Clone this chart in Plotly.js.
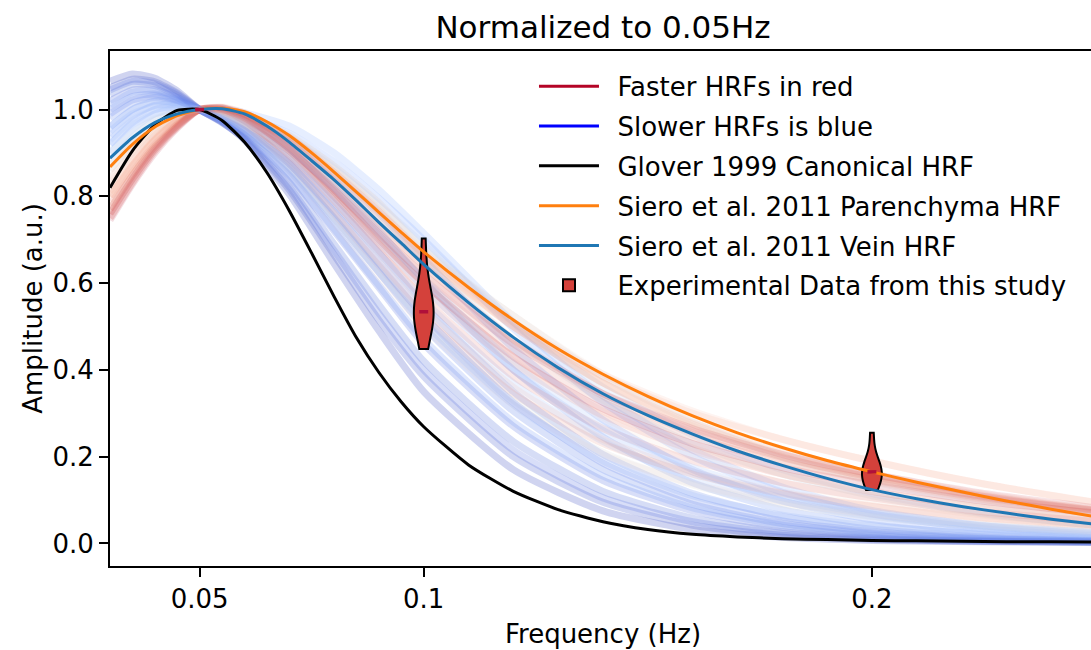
<!DOCTYPE html>
<html>
<head>
<meta charset="utf-8">
<script src="https://cdn.plot.ly/plotly-3.0.1.min.js"></script>
<style>
  html, body { margin: 0; padding: 0; overflow: hidden; background: #fff; }
  #chart { width: 1096px; height: 650px; }
</style>
</head>
<body>
<div id="chart"></div>
<script>
// ---------------- data ----------------
// frequency grid (Hz) for the simulated HRF family
const freqGrid = [0.03, 0.035, 0.04, 0.045, 0.05, 0.055, 0.06, 0.07, 0.08, 0.09, 0.1, 0.12, 0.14, 0.16, 0.18, 0.2, 0.225, 0.25];
// finer grid for the reference HRFs
const freqFine = [0.03, 0.035, 0.04, 0.045, 0.05, 0.055, 0.06, 0.065, 0.07, 0.075, 0.08, 0.085, 0.09, 0.095, 0.1,
                  0.11, 0.12, 0.13, 0.14, 0.15, 0.16, 0.17, 0.18, 0.19, 0.2, 0.21, 0.22, 0.23, 0.24, 0.25];

const gloverHRF = [0.82, 0.905, 0.965, 0.998, 1.0, 0.975, 0.925, 0.855, 0.767, 0.669, 0.569, 0.474, 0.394, 0.326, 0.269,
                   0.181, 0.12, 0.078, 0.05, 0.032, 0.021, 0.015, 0.011, 0.009, 0.007, 0.006, 0.005, 0.004, 0.004, 0.003];
const parenchymaHRF = [0.868, 0.92, 0.96, 0.986, 1.0, 1.003, 0.995, 0.972, 0.94, 0.9, 0.856, 0.81, 0.763, 0.717, 0.672,
                       0.59, 0.515, 0.448, 0.39, 0.339, 0.294, 0.255, 0.221, 0.191, 0.165, 0.141, 0.119, 0.098, 0.079, 0.061];
const veinHRF = [0.888, 0.935, 0.97, 0.99, 1.0, 1.002, 0.99, 0.962, 0.925, 0.882, 0.838, 0.79, 0.74, 0.692, 0.643,
                 0.555, 0.475, 0.405, 0.345, 0.295, 0.252, 0.213, 0.18, 0.15, 0.124, 0.103, 0.085, 0.07, 0.056, 0.044];

// simulated HRF family; speed: 0 = slowest (blue) ... 1 = fastest (red)
const hrf01 = [1.065, 1.082, 1.072, 1.043, 1.0, 0.972, 0.93, 0.805, 0.645, 0.49, 0.35, 0.17, 0.075, 0.032, 0.014, 0.007, 0.004, 0.002];
const hrf02 = [1.05, 1.07, 1.064, 1.038, 1.0, 0.97, 0.932, 0.815, 0.665, 0.515, 0.385, 0.2, 0.095, 0.042, 0.019, 0.009, 0.005, 0.003];
const hrf03 = [1.035, 1.058, 1.055, 1.033, 1.0, 0.972, 0.937, 0.832, 0.69, 0.55, 0.42, 0.235, 0.12, 0.058, 0.027, 0.013, 0.006, 0.003];
const hrf04 = [1.02, 1.045, 1.046, 1.028, 1.0, 0.974, 0.942, 0.847, 0.72, 0.59, 0.46, 0.27, 0.145, 0.075, 0.037, 0.018, 0.008, 0.004];
const hrf05 = [1.0, 1.03, 1.036, 1.023, 1.0, 0.977, 0.949, 0.866, 0.75, 0.625, 0.5, 0.305, 0.17, 0.09, 0.046, 0.024, 0.011, 0.005];
const hrf06 = [0.98, 1.015, 1.028, 1.02, 1.0, 0.98, 0.956, 0.886, 0.785, 0.67, 0.55, 0.35, 0.205, 0.115, 0.062, 0.033, 0.015, 0.007];
const hrf07 = [0.96, 1.0, 1.02, 1.016, 1.0, 0.985, 0.965, 0.905, 0.82, 0.72, 0.605, 0.4, 0.245, 0.14, 0.078, 0.043, 0.02, 0.009];
const hrf08 = [0.94, 0.985, 1.01, 1.012, 1.0, 0.99, 0.975, 0.925, 0.85, 0.76, 0.655, 0.45, 0.285, 0.17, 0.098, 0.055, 0.027, 0.013];
const hrf09 = [0.92, 0.97, 1.0, 1.008, 1.0, 0.995, 0.985, 0.945, 0.88, 0.795, 0.7, 0.495, 0.325, 0.2, 0.118, 0.068, 0.034, 0.017];
const hrf10 = [0.9, 0.955, 0.99, 1.004, 1.0, 1.002, 0.993, 0.962, 0.9, 0.815, 0.715, 0.51, 0.34, 0.215, 0.13, 0.076, 0.04, 0.02];
const hrf11 = [0.95, 0.99, 1.008, 1.01, 1.0, 0.985, 0.965, 0.895, 0.8, 0.695, 0.59, 0.4, 0.26, 0.165, 0.105, 0.068, 0.04, 0.024];
const hrf12 = [0.92, 0.965, 0.99, 1.0, 1.0, 0.985, 0.96, 0.88, 0.78, 0.67, 0.56, 0.37, 0.235, 0.15, 0.097, 0.063, 0.037, 0.022];
const hrf13 = [0.88, 0.935, 0.975, 0.995, 1.0, 0.995, 0.982, 0.935, 0.865, 0.78, 0.69, 0.51, 0.36, 0.25, 0.17, 0.115, 0.07, 0.042];
const hrf14 = [0.9, 0.945, 0.978, 0.995, 1.0, 0.99, 0.97, 0.91, 0.83, 0.74, 0.65, 0.47, 0.33, 0.23, 0.16, 0.11, 0.068, 0.042];
const hrf15 = [0.86, 0.92, 0.965, 0.99, 1.0, 0.997, 0.985, 0.94, 0.87, 0.785, 0.68, 0.525, 0.385, 0.28, 0.2, 0.143, 0.092, 0.058];
const hrf16 = [0.86, 0.92, 0.963, 0.99, 1.0, 0.99, 0.97, 0.9, 0.805, 0.7, 0.6, 0.42, 0.29, 0.2, 0.14, 0.1, 0.065, 0.042];
const hrf17 = [0.84, 0.905, 0.955, 0.985, 1.0, 1.0, 0.99, 0.94, 0.87, 0.785, 0.675, 0.525, 0.39, 0.29, 0.215, 0.16, 0.108, 0.072];
const hrf18 = [0.83, 0.895, 0.948, 0.982, 1.0, 0.998, 0.985, 0.935, 0.86, 0.77, 0.665, 0.505, 0.37, 0.27, 0.2, 0.15, 0.102, 0.068];
const hrf19 = [0.82, 0.89, 0.945, 0.982, 1.0, 0.995, 0.975, 0.905, 0.81, 0.705, 0.6, 0.43, 0.305, 0.22, 0.16, 0.12, 0.082, 0.056];
const hrf20 = [0.81, 0.88, 0.94, 0.978, 1.0, 1.0, 0.985, 0.93, 0.85, 0.76, 0.66, 0.5, 0.37, 0.278, 0.21, 0.16, 0.113, 0.078];
const hrf21 = [0.8, 0.872, 0.933, 0.975, 1.0, 1.003, 0.99, 0.935, 0.855, 0.765, 0.665, 0.5, 0.37, 0.275, 0.205, 0.155, 0.11, 0.077];
const hrf22 = [0.79, 0.865, 0.928, 0.972, 1.0, 1.005, 0.992, 0.937, 0.855, 0.765, 0.67, 0.51, 0.39, 0.305, 0.24, 0.19, 0.137, 0.094];
const hrf23 = [0.78, 0.855, 0.92, 0.968, 1.0, 1.0, 0.98, 0.905, 0.8, 0.69, 0.585, 0.415, 0.295, 0.215, 0.16, 0.12, 0.083, 0.057];
const hrf24 = [0.77, 0.848, 0.915, 0.965, 1.0, 1.002, 0.985, 0.915, 0.815, 0.71, 0.61, 0.445, 0.325, 0.245, 0.188, 0.147, 0.105, 0.075];
const hrf25 = [0.76, 0.84, 0.91, 0.962, 1.0, 1.004, 0.988, 0.925, 0.835, 0.735, 0.64, 0.47, 0.345, 0.26, 0.198, 0.152, 0.108, 0.076];
const hrf26 = [0.75, 0.832, 0.905, 0.96, 1.0, 1.006, 0.992, 0.932, 0.845, 0.75, 0.655, 0.5, 0.385, 0.3, 0.24, 0.19, 0.137, 0.095];
const hrf27 = [0.745, 0.828, 0.9, 0.957, 1.0, 1.004, 0.985, 0.91, 0.81, 0.7, 0.6, 0.43, 0.31, 0.23, 0.175, 0.135, 0.097, 0.07];
const hrf28 = [0.8, 0.87, 0.93, 0.975, 1.0, 0.99, 0.965, 0.88, 0.77, 0.65, 0.54, 0.36, 0.24, 0.165, 0.118, 0.087, 0.06, 0.042];
const hrf29 = [0.77, 0.848, 0.915, 0.965, 1.0, 0.992, 0.965, 0.875, 0.76, 0.64, 0.525, 0.345, 0.23, 0.16, 0.115, 0.085, 0.058, 0.04];
const hrf30 = [0.84, 0.9, 0.95, 0.983, 1.0, 0.985, 0.955, 0.86, 0.74, 0.615, 0.5, 0.32, 0.205, 0.138, 0.095, 0.068, 0.045, 0.03];
const hrf31 = [0.76, 0.84, 0.91, 0.962, 1.0, 0.996, 0.975, 0.895, 0.79, 0.675, 0.565, 0.385, 0.265, 0.19, 0.14, 0.105, 0.073, 0.05];
const hrf32 = [0.87, 0.925, 0.965, 0.99, 1.0, 0.985, 0.955, 0.865, 0.75, 0.63, 0.515, 0.33, 0.21, 0.135, 0.09, 0.062, 0.04, 0.026];
const hrf33 = [0.96, 1.0, 1.018, 1.015, 1.0, 0.98, 0.952, 0.86, 0.745, 0.625, 0.51, 0.32, 0.19, 0.11, 0.065, 0.04, 0.022, 0.013];
const hrf34 = [1.01, 1.04, 1.043, 1.027, 1.0, 0.974, 0.942, 0.85, 0.725, 0.595, 0.47, 0.28, 0.155, 0.082, 0.042, 0.022, 0.01, 0.005];
const hrf35 = [1.045, 1.065, 1.06, 1.036, 1.0, 0.97, 0.934, 0.822, 0.675, 0.53, 0.4, 0.215, 0.105, 0.05, 0.023, 0.011, 0.005, 0.003];
const hrf36 = [0.93, 0.975, 1.0, 1.006, 1.0, 0.99, 0.972, 0.91, 0.82, 0.715, 0.61, 0.415, 0.27, 0.175, 0.112, 0.072, 0.042, 0.025];
const hrf37 = [0.99, 1.022, 1.032, 1.021, 1.0, 0.978, 0.952, 0.875, 0.765, 0.645, 0.525, 0.325, 0.185, 0.1, 0.052, 0.027, 0.012, 0.006];
const hrf38 = [0.8, 0.87, 0.93, 0.975, 1.0, 0.998, 0.98, 0.915, 0.83, 0.73, 0.63, 0.465, 0.34, 0.255, 0.19, 0.145, 0.1, 0.07];
const hrf39 = [0.75, 0.832, 0.905, 0.96, 1.0, 1.0, 0.982, 0.91, 0.815, 0.715, 0.62, 0.46, 0.345, 0.265, 0.205, 0.16, 0.115, 0.082];
const ensemble = [hrf01, hrf02, hrf03, hrf04, hrf05, hrf06, hrf07, hrf08, hrf09, hrf10, hrf11, hrf12, hrf13, hrf14,
                  hrf15, hrf16, hrf17, hrf18, hrf19, hrf20, hrf21, hrf22, hrf23, hrf24, hrf25, hrf26, hrf27,
                  hrf28, hrf29, hrf30, hrf31, hrf32, hrf33, hrf34, hrf35, hrf36, hrf37, hrf38, hrf39];
const ensembleSpeed = [0.0, 0.04, 0.08, 0.1, 0.13, 0.16, 0.19, 0.22, 0.25, 0.28, 0.3, 0.35, 0.4, 0.45, 0.5, 0.58,
                       0.6, 0.64, 0.68, 0.72, 0.76, 0.7, 0.84, 0.88, 0.92, 0.72, 1.0,
                       0.7, 0.85, 0.6, 0.9, 0.5, 0.3, 0.2, 0.1, 0.35, 0.15, 0.75, 0.95];

// experimental data (amplitude per subject) at the probed frequencies
const expFreqs = [0.05, 0.1, 0.2];
const exp005 = [1.0, 1.0, 1.0, 1.0, 1.0, 1.0, 1.0, 1.0, 1.0, 1.0];
const exp010 = [0.448, 0.49, 0.515, 0.528, 0.532, 0.536, 0.55, 0.575, 0.62, 0.703];
const exp020 = [0.123, 0.135, 0.145, 0.155, 0.162, 0.168, 0.175, 0.185, 0.205, 0.255];

const xTickVals = [0.05, 0.1, 0.2];
const xTickText = ['0.05', '0.1', '0.2'];
const yTickVals = [0.0, 0.2, 0.4, 0.6, 0.8, 1.0];

// ---------------- styling helpers ----------------
const coolwarm = [[59,76,192],[98,130,234],[141,176,254],[184,208,249],[221,221,221],
                  [245,196,173],[244,154,123],[222,96,77],[180,4,38]];
function cmap(t, a) {
  const p = Math.max(0, Math.min(1, t)) * (coolwarm.length - 1);
  const i = Math.min(Math.floor(p), coolwarm.length - 2);
  const f = p - i;
  const c = coolwarm[i].map((v, k) => Math.round(v + (coolwarm[i + 1][k] - v) * f));
  return `rgba(${c[0]},${c[1]},${c[2]},${a})`;
}
function median(arr) {
  const s = arr.slice().sort((a, b) => a - b);
  const n = s.length;
  return n % 2 ? s[(n - 1) / 2] : (s[n / 2 - 1] + s[n / 2]) / 2;
}

const FONT = 'DejaVu Sans, Verdana, sans-serif';
const PAD = '\u00A0\u2009';
const traces = [];

ensemble.forEach((vals, i) => {
  const t = ensembleSpeed[i];
  traces.push({
    type: 'scatter', mode: 'lines', x: freqGrid, y: vals,
    line: { color: cmap(t, t > 0.55 ? 0.13 : 0.24), width: 7, shape: 'spline', smoothing: 0.6 },
    showlegend: false, hoverinfo: 'skip'
  });
});

// everything below lives on an overlaying (identical) axis pair so it is drawn above the family
const OV = { xaxis: 'x2', yaxis: 'y2' };

const violinData = [exp010, exp020];
const violinPos = [0.1, 0.2];
const violinBw = [0.05, 0.026];
violinData.forEach((vals, i) => {
  traces.push(Object.assign({
    type: 'violin', x: vals.map(() => violinPos[i]), y: vals,
    name: PAD + 'Experimental Data from this study', showlegend: i === 0, legendrank: 6, legendgroup: 'g6',
    width: 0.0044, spanmode: 'hard', scalemode: 'width', points: false, bandwidth: violinBw[i],
    box: { visible: false }, meanline: { visible: false },
    fillcolor: '#d4413b', line: { color: '#000000', width: 2 }, opacity: 1, hoverinfo: 'skip'
  }, OV));
});

traces.push(Object.assign({ type: 'scatter', mode: 'lines', x: [null], y: [null], name: PAD + 'Faster HRFs in red',
  line: { color: '#b40426', width: 3 }, legendrank: 1, legendgroup: 'g1' }, OV));
traces.push(Object.assign({ type: 'scatter', mode: 'lines', x: [null], y: [null], name: PAD + 'Slower HRFs is blue',
  line: { color: '#0000ff', width: 3 }, legendrank: 2, legendgroup: 'g2' }, OV));
traces.push(Object.assign({ type: 'scatter', mode: 'lines', x: freqFine, y: gloverHRF, name: PAD + 'Glover 1999 Canonical HRF',
  line: { color: '#000000', width: 3, shape: 'spline', smoothing: 0.6 }, legendrank: 3, legendgroup: 'g3', hoverinfo: 'skip' }, OV));
traces.push(Object.assign({ type: 'scatter', mode: 'lines', x: freqFine, y: parenchymaHRF, name: PAD + 'Siero et al. 2011 Parenchyma HRF',
  line: { color: '#ff7f0e', width: 3, shape: 'spline', smoothing: 0.6 }, legendrank: 4, legendgroup: 'g4', hoverinfo: 'skip' }, OV));
traces.push(Object.assign({ type: 'scatter', mode: 'lines', x: freqFine, y: veinHRF, name: PAD + 'Siero et al. 2011 Vein HRF',
  line: { color: '#1f77b4', width: 3, shape: 'spline', smoothing: 0.6 }, legendrank: 5, legendgroup: 'g5', hoverinfo: 'skip' }, OV));

[exp005, exp010, exp020].forEach((vals, i) => {
  const m = median(vals);
  traces.push(Object.assign({
    type: 'scatter', mode: 'lines', x: [expFreqs[i] - 0.001, expFreqs[i] + 0.001], y: [m, m],
    line: { color: '#b0103a', width: 3.5 }, showlegend: false, hoverinfo: 'skip'
  }, OV));
});

const axisCommon = {
  showline: true, linewidth: 2, linecolor: '#000', ticks: 'outside', ticklen: 9, tickwidth: 2,
  tickcolor: '#000', showgrid: false, zeroline: false, tickfont: { family: FONT, size: 26, color: '#000' }
};
const xRange = [0.03, 0.25];
const yRange = [-0.052, 1.135];

const layout = {
  width: 1096, height: 650,
  margin: { l: 110, r: 0, t: 51, b: 84, pad: 0 },
  paper_bgcolor: '#fff', plot_bgcolor: '#fff',
  font: { family: FONT, color: '#000' },
  title: { text: 'Normalized to 0.05Hz', font: { family: FONT, size: 31, color: '#000' },
           x: 0.5, xref: 'paper', xanchor: 'center', y: 1 - 27 / 650, yref: 'container', yanchor: 'middle' },
  xaxis: Object.assign({}, axisCommon, {
    range: xRange, tickvals: xTickVals, ticktext: xTickText, mirror: true,
    title: { text: 'Frequency (Hz)', font: { family: FONT, size: 26, color: '#000' }, standoff: 12 }
  }),
  yaxis: Object.assign({}, axisCommon, {
    range: yRange, tickvals: yTickVals, tickformat: '.1f',
    title: { text: 'Amplitude (a.u.)', font: { family: FONT, size: 26, color: '#000' }, standoff: 2 }
  }),
  xaxis2: { overlaying: 'x', matches: 'x', range: xRange, visible: false, showgrid: false, zeroline: false },
  yaxis2: { overlaying: 'y', matches: 'y', range: yRange, visible: false, showgrid: false, zeroline: false },
  violinmode: 'overlay',
  showlegend: true,
  legend: { x: 0.43, y: 0.977, xanchor: 'left', yanchor: 'top', bgcolor: 'rgba(0,0,0,0)',
            font: { family: FONT, size: 26, color: '#000' }, itemwidth: 60, traceorder: 'grouped',
            tracegroupgap: 3 }
};

Plotly.newPlot('chart', traces, layout, { staticPlot: true, displayModeBar: false });
</script>
</body>
</html>
